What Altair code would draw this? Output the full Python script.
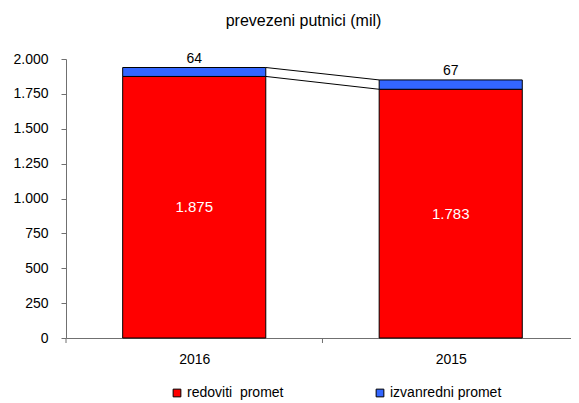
import altair as alt
import pandas as pd

years = ["2016", "2015"]
redoviti = [1875, 1783]
izvanredni = [64, 67]
series_names = ["redoviti\u00a0\u00a0promet", "izvanredni promet"]
colors = ["#FF0000", "#3366FF"]
y_ticks = [0, 250, 500, 750, 1000, 1250, 1500, 1750, 2000]

HW = 0.279  # half bar width in category units
FONT = "Liberation Sans"

pos = list(range(len(years)))
rows = []
for i, yr in enumerate(years):
    rows.append({"year": yr, "pos": pos[i], "series": series_names[0], "order": 0,
                 "y0": 0, "y1": redoviti[i], "v": redoviti[i]})
    rows.append({"year": yr, "pos": pos[i], "series": series_names[1], "order": 1,
                 "y0": redoviti[i], "y1": redoviti[i] + izvanredni[i], "v": izvanredni[i]})
df = pd.DataFrame(rows)

lines = pd.DataFrame({
    "xa": [pos[0], pos[0]], "xb": [pos[1], pos[1]],
    "ya": [redoviti[0], redoviti[0] + izvanredni[0]],
    "yb": [redoviti[1], redoviti[1] + izvanredni[1]],
})
ticks = pd.DataFrame({"t": [-0.5, 0.5]})

xscale = alt.Scale(domain=[-0.5, 1.469], nice=False, zero=False)
yscale = alt.Scale(domain=[0, 2000], nice=False)

label_arr = "[" + ",".join(f"'{y}'" for y in years) + "]"

xaxis = alt.Axis(values=pos, title=None, ticks=False, grid=False,
                 labelExpr=f"{label_arr}[datum.value]",
                 domainColor="#707070", labelFont=FONT, labelFontSize=14,
                 labelColor="black", labelPadding=14)
yaxis = alt.Axis(values=y_ticks, title=None, grid=False, labelOverlap=False,
                 labelExpr="replace(format(datum.value, ','), ',', '.')",
                 domainColor="#707070", tickColor="#707070", tickSize=5,
                 labelFont=FONT, labelFontSize=14, labelColor="black",
                 labelPadding=13)

base = alt.Chart(df).transform_calculate(
    xl=f"datum.pos - {HW}", xr=f"datum.pos + {HW}",
    mid="(datum.y0 + datum.y1) / 2",
    lab="replace(format(datum.v, ','), ',', '.')",
)

bars = base.mark_bar(stroke="black", strokeWidth=1).encode(
    x=alt.X("xl:Q", scale=xscale, axis=xaxis),
    x2="xr:Q",
    y=alt.Y("y1:Q", scale=yscale, axis=yaxis),
    y2="y0:Q",
    color=alt.Color("series:N", scale=alt.Scale(domain=series_names, range=colors),
                    legend=alt.Legend(title=None, orient="none", direction="horizontal",
                                      legendX=104, legendY=327, symbolType="square",
                                      symbolSize=60, symbolStrokeColor="black",
                                      symbolStrokeWidth=1, labelFont=FONT,
                                      labelFontSize=14, labelColor="black",
                                      columnPadding=89, labelOffset=3, padding=0)),
)

red_labels = base.transform_filter("datum.order == 0").mark_text(
    color="white", font=FONT, fontSize=15).encode(
    x=alt.X("pos:Q", scale=xscale, axis=xaxis),
    y=alt.Y("mid:Q", scale=yscale, axis=yaxis), text="lab:N")

blue_labels = base.transform_filter("datum.order == 1").mark_text(
    color="black", font=FONT, fontSize=14, baseline="bottom", dy=-2).encode(
    x=alt.X("pos:Q", scale=xscale, axis=xaxis),
    y=alt.Y("y1:Q", scale=yscale, axis=yaxis), text="lab:N")

series_lines = alt.Chart(lines).transform_calculate(
    xs=f"datum.xa + {HW}", xe=f"datum.xb - {HW}"
).mark_rule(color="black", strokeWidth=1).encode(
    x=alt.X("xs:Q", scale=xscale, axis=xaxis), x2="xe:Q",
    y=alt.Y("ya:Q", scale=yscale, axis=yaxis), y2="yb:Q")

xticks = alt.Chart(ticks).mark_rule(color="#707070").encode(
    x=alt.X("t:Q", scale=xscale, axis=xaxis), y=alt.value(279), y2=alt.value(284))

chart = alt.layer(series_lines, bars, red_labels, blue_labels, xticks).properties(
    width=505, height=279,
    title=alt.TitleParams("prevezeni putnici (mil)", font=FONT, fontSize=16,
                          fontWeight="normal", color="black", anchor="middle",
                          dx=-15, offset=23),
    autosize=alt.AutoSizeParams(type="none"),
    padding={"left": 58, "top": 51, "right": 0, "bottom": 65},
).configure_view(stroke=None)

chart.save("out.html", embed_options={"renderer": "svg", "actions": False})
